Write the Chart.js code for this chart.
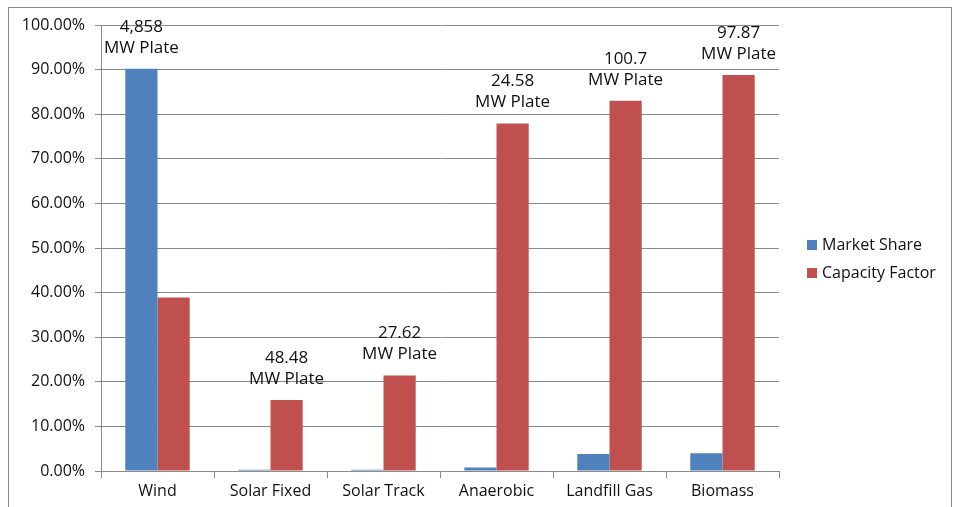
<!DOCTYPE html>
<html>
<head>
<meta charset="utf-8">
<script src="https://cdn.jsdelivr.net/npm/chart.js@4.4.1/dist/chart.umd.min.js"></script>
<style>
  html, body { margin: 0; padding: 0; background: #fff; }
  #wrap { position: relative; width: 958px; height: 507px; overflow: hidden; }
  #frame { position: absolute; left: 8px; top: 7px; width: 944px; height: 520px; border: 1px solid #8a8a8a; box-sizing: border-box; }
  canvas { position: absolute; left: 0; top: 0; }
</style>
</head>
<body>
<div id="wrap">
  <div id="frame"></div>
  <canvas id="chart" width="958" height="507"></canvas>
</div>
<script>
// =========================
// DATA
// =========================

const categories =
  ["Wind", "Solar Fixed", "Solar Track", "Anaerobic", "Landfill Gas", "Biomass"];

const marketShare =
  [90.2, 0.3, 0.3, 0.8, 3.8, 4.0];

const capacityFactor =
  [38.9, 15.9, 21.4, 77.9, 83.0, 88.8];

const plateLabels =
  ["4,858", "48.48", "27.62", "24.58", "100.7", "97.87"];

const seriesNames =
  ["Market Share", "Capacity Factor"];

const seriesColors =
  ["#4f81bd", "#c0504d"];

const FONT = "'Open Sans', 'Noto Sans', sans-serif";

// =========================
// PLUGINS
// =========================

// "xx MW Plate" above the taller bar of each group
const plateLabelPlugin = {
  id: "plateLabels",
  afterDatasetsDraw(chart)
  {
    const ctx = chart.ctx;
    ctx.save();
    ctx.font = "17px " + FONT;
    ctx.fillStyle = "#111";
    ctx.textAlign = "center";
    ctx.textBaseline = "middle";

    categories.forEach((c, i) =>
    {
      const d = marketShare[i] > capacityFactor[i] ? 0 : 1;
      const bar = chart.getDatasetMeta(d).data[i];
      ctx.fillText("MW Plate", bar.x, bar.y - 21);
      ctx.fillText(plateLabels[i], bar.x, bar.y - 42);
    });

    ctx.restore();
  }
};

// legend on the right, drawn by hand
const sideLegendPlugin = {
  id: "sideLegend",
  afterDraw(chart)
  {
    const ctx = chart.ctx;
    ctx.save();
    ctx.font = "16px " + FONT;
    ctx.textBaseline = "middle";
    ctx.textAlign = "left";

    chart.data.datasets.forEach((ds, i) =>
    {
      const y = 245 + i * 28;
      ctx.fillStyle = ds.backgroundColor;
      ctx.fillRect(807, y - 5, 10, 10);
      ctx.fillStyle = "#111";
      ctx.fillText(ds.label, 822, y);
    });

    ctx.restore();
  }
};

// =========================
// CHART
// =========================

const ctx =
  document.getElementById("chart");

const chart =
new Chart(ctx, {
  type: "bar",
  data: {
    labels: categories,
    datasets: [
      {
        label: seriesNames[0],
        data: marketShare,
        backgroundColor: seriesColors[0],
        barPercentage: 1,
        categoryPercentage: 0.57
      },
      {
        label: seriesNames[1],
        data: capacityFactor,
        backgroundColor: seriesColors[1],
        barPercentage: 1,
        categoryPercentage: 0.57
      }
    ]
  },
  options: {
    responsive: false,
    animation: false,
    devicePixelRatio: 1,
    layout: {
      padding: { left: 8, top: 25, right: 179, bottom: 0 }
    },
    plugins: {
      legend: { display: false },
      tooltip: { enabled: false }
    },
    scales: {
      x: {
        grid: {
          offset: true,
          drawOnChartArea: false,
          drawTicks: true,
          tickLength: 7,
          color: "#8a8a8a"
        },
        border: { color: "#8a8a8a" },
        ticks: {
          font: { family: FONT, size: 16 },
          color: "#111",
          padding: 4,
          maxRotation: 0
        },
        afterFit: (s) => { s.height = 36; }
      },
      y: {
        min: 0,
        max: 100,
        grid: {
          color: "#8a8a8a",
          tickLength: 6
        },
        border: { color: "#8a8a8a" },
        ticks: {
          stepSize: 10,
          font: { family: FONT, size: 16 },
          color: "#111",
          padding: 10,
          callback: (v) => v.toFixed(2) + "%"
        },
        afterFit: (s) => { s.width = 93; }
      }
    }
  },
  plugins: [plateLabelPlugin, sideLegendPlugin]
});
</script>
</body>
</html>
